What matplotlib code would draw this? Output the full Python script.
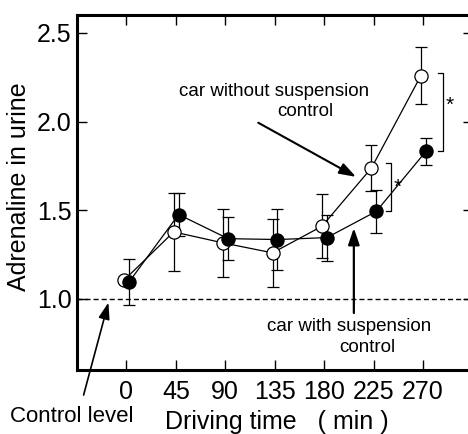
import matplotlib
matplotlib.use('Agg')
import matplotlib.pyplot as plt

plt.rcParams['font.family'] = ['Liberation Sans', 'DejaVu Sans']

# Driving time (min)
times = [0, 45, 90, 135, 180, 225, 270]

# car without suspension control (open circles)
open_mean = [1.107, 1.378, 1.316, 1.26, 1.41, 1.738, 2.258]
open_err = [0.0, 0.22, 0.19, 0.19, 0.18, 0.13, 0.16]

# car with suspension control (filled circles)
filled_mean = [1.097, 1.476, 1.34, 1.335, 1.346, 1.494, 1.831]
filled_err = [0.13, 0.12, 0.12, 0.17, 0.13, 0.12, 0.075]

control_level = 1.0
y_ticks = [1.0, 1.5, 2.0, 2.5]

W, H = 468, 434
fig = plt.figure(figsize=(W / 100, H / 100), dpi=100)
ax = fig.add_axes([77 / W, (H - 370) / H, (472.5 - 77) / W, 355 / H])

ax.set_xlim(-45, 315)
ax.set_ylim(0.6, 2.6)

# small horizontal offsets so the two series don't sit on top of each other
x_open = [t - 2 for t in times]
x_filled = [t + 2.5 for t in times]

ax.axhline(control_level, color='black', lw=1.0, ls=(0, (3.6, 2.2)), zorder=1)

ax.errorbar(x_open, open_mean, yerr=open_err, fmt='none', ecolor='black',
            elinewidth=0.9, capsize=4, capthick=0.9, zorder=2)
ax.errorbar(x_filled, filled_mean, yerr=filled_err, fmt='none', ecolor='black',
            elinewidth=0.9, capsize=4, capthick=0.9, zorder=2)

ax.plot(x_open, open_mean, '-', color='black', lw=0.9, zorder=3)
ax.plot(x_filled, filled_mean, '-', color='black', lw=0.9, zorder=3)
ax.plot(x_open, open_mean, 'o', ms=9.5, mfc='white', mec='black', mew=0.9,
        zorder=4)
ax.plot(x_filled, filled_mean, 'o', ms=9.5, mfc='black', mec='black',
        mew=0.9, zorder=5)

# significance brackets
def bracket(x, y0, y1, star_y):
    ax.plot([x - 4.5, x, x, x - 4.5], [y0, y0, y1, y1], color='black',
            lw=0.9, clip_on=False)
    ax.text(x + 6.5, star_y, '*', fontsize=15, ha='center', va='center')

bracket(288, 1.831, 2.273, 2.09)
bracket(240.6, 1.496, 1.765, 1.63)

# annotations
arrow = dict(arrowstyle='-|>,head_length=0.5,head_width=0.17', color='black',
             shrinkA=0, shrinkB=0, mutation_scale=20)

ax.annotate('', xy=(209, 1.688), xytext=(120, 1.993),
            arrowprops=dict(arrow, lw=1.5))
ax.text(134.1, 2.142, 'car without suspension', fontsize=13.5,
        ha='center', va='baseline')
ax.text(162.7, 2.032, 'control', fontsize=13.5, ha='center', va='baseline')

ax.annotate('', xy=(207, 1.40), xytext=(207, 0.921),
            arrowprops=dict(arrow, lw=1.6))
ax.text(202.7, 0.817, 'car with suspension', fontsize=13.5,
        ha='center', va='baseline')
ax.text(219.5, 0.704, 'control', fontsize=13.5, ha='center', va='baseline')

ax.annotate('', xy=(-16.4, 0.98), xytext=(-39, 0.459),
            arrowprops=dict(arrow, lw=1.2), annotation_clip=False)
ax.text(-49.5, 0.308, 'Control level', fontsize=16, ha='center',
        va='baseline', clip_on=False)

# axes styling
ax.set_xticks(times)
ax.set_xticklabels([str(t) for t in times])
ax.set_yticks(y_ticks)
ax.set_yticklabels([f'{v:.1f}' for v in y_ticks])
ax.tick_params(direction='in', length=7, width=1, labelsize=18,
               top=True, right=True, pad=4)
ax.tick_params(axis='x', pad=7)
for side in ['left', 'bottom', 'top', 'right']:
    ax.spines[side].set_linewidth(2.2)

fig.text(19 / W, (H - 186.5) / H, 'Adrenaline in urine', fontsize=18,
         rotation=90, ha='center', va='center')
fig.text(276.5 / W, (H - 429) / H, 'Driving time   ( min )', fontsize=18,
         ha='center', va='baseline')

fig.savefig('out.png', dpi=100)
